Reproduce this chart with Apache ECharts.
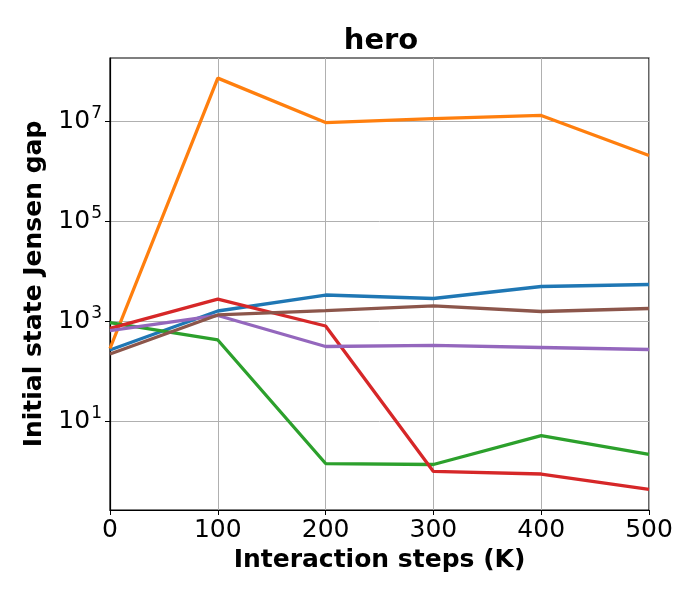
<!doctype html>
<html lang="en">
<head>
	<meta charset="UTF-8">
	<title>hero</title>
	<script src="https://cdn.jsdelivr.net/npm/echarts@6/dist/echarts.min.js"></script>
	<style>
		html, body { margin: 0; padding: 0; width: 100%; height: 100%; background: #fff; }
		#main { width: 700px; height: 600px; }
	</style>
</head>
<body>
	<div id="main"></div>
	<script type="text/javascript">
		// interaction steps (K)
		var steps = [0, 100, 200, 300, 400, 500];
		// values
		var blue = [263, 1585, 3310, 2820, 4900, 5370];
		var orange = [282, 7.2e7, 9.3e6, 1.12e7, 1.29e7, 2.04e6];
		var green = [930, 417, 1.41, 1.35, 5.1, 2.14];
		var red = [710, 2750, 795, 0.98, 0.87, 0.43];
		var purple = [645, 1290, 309, 324, 295, 269];
		var brown = [219, 1320, 1620, 2000, 1550, 1780];
		var yTickExp = [1, 3, 5, 7];

		var colors = ['#1f77b4', '#ff7f0e', '#2ca02c', '#d62728', '#9467bd', '#8c564b'];
		var allSeries = [blue, orange, green, red, purple, brown];
		var font = 'DejaVu Sans';

		var myChart = echarts.init(document.getElementById('main'));

		option = {
			animation: false,
			title: {
				text: 'hero',
				left: 376,
				textAlign: 'center',
				top: 22,
				textStyle: { fontFamily: font, fontSize: 29, fontWeight: 'bold', color: '#000' }
			},
			grid: {
				left: 110, right: 51, top: 58, bottom: 90,
				show: true, borderColor: '#000', borderWidth: 1.2
			},
			xAxis: {
				type: 'value',
				min: 0, max: 500, interval: 100,
				name: 'Interaction steps (K)',
				nameLocation: 'middle',
				nameGap: 36,
				nameTextStyle: { fontFamily: font, fontSize: 25, fontWeight: 'bold', color: '#000' },
				axisLine: { show: true, onZero: false, lineStyle: { color: '#000', width: 1.2 } },
				axisTick: { show: true, length: 5, lineStyle: { color: '#000' } },
				axisLabel: { fontFamily: font, fontSize: 25, color: '#000', margin: 8 },
				splitLine: { show: true, lineStyle: { color: '#b0b0b0', width: 1 } }
			},
			yAxis: {
				type: 'value',
				min: -0.78, max: 8.26,
				name: 'Initial state Jensen gap',
				nameLocation: 'middle',
				nameGap: 56,
				nameTextStyle: { fontFamily: font, fontSize: 25, fontWeight: 'bold', color: '#000' },
				axisLine: { show: true, onZero: false, lineStyle: { color: '#000', width: 1.2 } },
				axisTick: { show: true, length: 5, customValues: yTickExp, lineStyle: { color: '#000' } },
				axisLabel: {
					customValues: yTickExp,
					margin: 8,
					formatter: function (v) { return '{b|10}{s|' + v + '}'; },
					rich: {
						b: { fontFamily: font, fontSize: 25, color: '#000' },
						s: { fontFamily: font, fontSize: 17, color: '#000', padding: [0, 0, 14, 1] }
					}
				},
				splitLine: { show: true, lineStyle: { color: '#b0b0b0', width: 1 } }
			},
			series: allSeries.map(function (vals, i) {
				return {
					type: 'line',
					data: steps.map(function (s, j) { return [s, Math.log10(vals[j])]; }),
					showSymbol: false,
					lineStyle: { color: colors[i], width: 3.3 },
					itemStyle: { color: colors[i] }
				};
			})
		};
		myChart.setOption(option);
	</script>
</body>
</html>
